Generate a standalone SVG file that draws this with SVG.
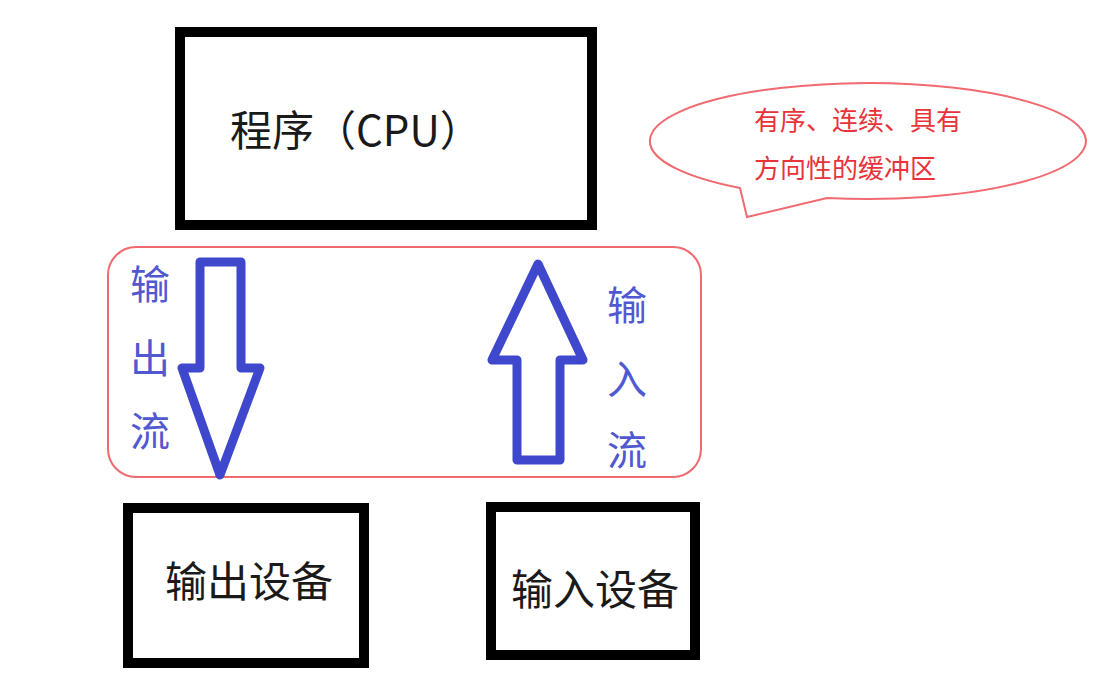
<svg xmlns="http://www.w3.org/2000/svg" width="1097" height="678" viewBox="0 0 1097 678">
<style>
.box{fill:#fff;stroke:#000;stroke-width:10}
.lbl{font-family:"Noto Sans CJK SC","Liberation Sans",sans-serif;fill:#1a1a1a}
.red{fill:none;stroke:#f06a70;stroke-width:2}
.rtxt{font-family:"Noto Sans CJK SC","Liberation Sans",sans-serif;fill:#e8333a;font-size:26px}
.arrow{fill:#fff;stroke:#3f48cc;stroke-width:9;stroke-linejoin:round}
.btxt{font-family:"Noto Sans CJK SC","Liberation Sans",sans-serif;fill:#5058d2;font-size:40px}
</style>
<rect width="1097" height="678" fill="#fff"/>
<g id="cpu">
<rect class="box" x="180" y="32" width="412" height="193"/>
<text class="lbl" x="230" y="146" font-size="42">程序（CPU）</text>
</g>
<g id="callout">
<path class="red" d="M740 188 L747 217 L827 198 A218 58 0 1 0 740 188 Z" fill="#fff"/>
<text class="rtxt" x="754" y="130">有序、连续、具有</text>
<text class="rtxt" x="754" y="178">方向性的缓冲区</text>
</g>
<g id="buffer">
<rect class="red" x="108" y="247" width="593" height="230" rx="28"/>
</g>
<g id="connectors">
<path class="arrow" d="M200 262 L241 262 L241 368 L260 368 L220 475 L182 368 L200 368 Z"/>
<path class="arrow" d="M538 264 L583 360 L560 360 L560 460 L517 460 L517 360 L492 360 Z"/>
</g>
<g id="output-stream-label">
<text class="btxt" x="130" y="299">输</text>
<text class="btxt" x="130" y="373">出</text>
<text class="btxt" x="130" y="446">流</text>
</g>
<g id="input-stream-label">
<text class="btxt" x="607" y="320">输</text>
<text class="btxt" x="607" y="394">入</text>
<text class="btxt" x="607" y="465">流</text>
</g>
<g id="output-device">
<rect class="box" x="128" y="508" width="236" height="155"/>
<text class="lbl" x="165" y="597" font-size="42">输出设备</text>
</g>
<g id="input-device">
<rect class="box" x="491" y="507" width="204" height="148"/>
<text class="lbl" x="511" y="605" font-size="42">输入设备</text>
</g>
</svg>
